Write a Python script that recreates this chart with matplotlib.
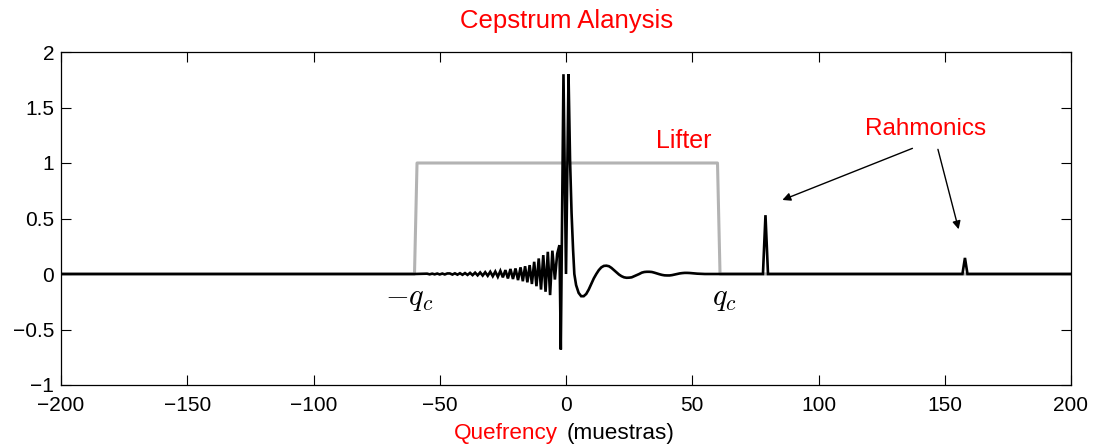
import matplotlib
matplotlib.use("Agg")
import matplotlib.pyplot as plt

plt.rcParams['font.family'] = ['Liberation Sans', 'DejaVu Sans']
plt.rcParams['mathtext.fontset'] = 'cm'

# ---- data ----
# lifter window
lifter_x = [-200, -60, -59, 60, 61, 200]
lifter_y = [0, 0, 1, 1, 0, 0]

# cepstrum: left oscillating tail (x, y)
left_x = [-200, -60, -55.0, -54.0, -53.0, -52.0, -51.0, -50.0, -49.0, -48.0, -47.0,
          -46.0, -45.0, -44.0, -43.0, -42.0, -41.0, -40.0, -39.0, -38.0, -37.0,
          -36.0, -35.0, -34.0, -33.0, -32.0, -31.0, -30.0, -29.0, -28.0, -27.0, -26.0,
          -25.0, -24.0, -23.0, -22.0, -21.0, -20.0, -19.0, -18.0, -17.1, -16.2, -15.3,
          -14.4, -13.5, -12.6, -11.7, -10.8, -9.9, -9.0, -8.1, -7.2, -6.3, -5.4,
          -4.4, -3.5, -2.6, -2.06, -1.0, 0.0]
left_y = [0, 0, 0.003, -0.003, 0.003, -0.003, 0.004, -0.004, 0.004, -0.004, 0.005,
          0.005, -0.005, 0.006, -0.006, 0.007, -0.007, 0.008, -0.008, 0.010, -0.010,
          0.012, -0.012, 0.014, -0.014, 0.016, -0.016, 0.020, -0.020, 0.022, -0.025, 0.028,
          -0.030, 0.035, -0.04, 0.045, -0.045, 0.05, -0.055, 0.06, -0.065, 0.07, -0.075,
          0.08, -0.09, 0.11, -0.11, 0.14, -0.14, 0.17, -0.16, 0.20, -0.19, 0.21,
          -0.05, 0.18, 0.26, -0.68, 1.80, 0.0]

# cepstrum: right decaying part (x, y)
right_x = [1.0, 1.6, 2.2, 2.8, 3.3, 4.0, 5.0, 6.0, 7.0, 8.0, 9.0, 10.0, 11.0, 12.0, 13.0,
           14.0, 15.0, 16.0, 17.0, 18.0, 19.0, 20.0, 21.0, 22.0, 23.0, 24.0, 25.0, 26.0,
           27.0, 28.0, 29.0, 30.0, 31.0, 32.0, 33.0, 34.0, 35.0, 36.0, 37.0, 38.0, 39.0,
           40.0, 41.0, 42.0, 43.0, 44.0, 45.0, 46.0, 47.0, 48.0, 49.0, 50.0, 52.0, 55.0,
           60.0, 78.0, 79.0, 80.0, 157.0, 158.0, 159.0, 200.0]
right_y = [1.80, 1.03, 0.55, 0.22, 0.0, -0.10, -0.17, -0.20, -0.20, -0.18, -0.14, -0.09,
           -0.04, 0.0, 0.035, 0.06, 0.073, 0.075, 0.07, 0.055, 0.035, 0.015, -0.005, -0.02,
           -0.03, -0.034, -0.033, -0.03, -0.02, -0.01, 0.0, 0.012, 0.018, 0.02, 0.02,
           0.018, 0.012, 0.005, -0.002, -0.008, -0.012, -0.013, -0.013, -0.01, -0.005,
           0.0, 0.005, 0.008, 0.01, 0.01, 0.009, 0.007, 0.003, 0.0,
           0.0, 0.0, 0.53, 0.0, 0.0, 0.145, 0.0, 0.0]

x_ticks = [-200, -150, -100, -50, 0, 50, 100, 150, 200]
y_ticks = [-1, -0.5, 0, 0.5, 1, 1.5, 2]
y_tick_labels = ['\u22121', '\u22120.5', '0', '0.5', '1', '1.5', '2']
x_tick_labels = ['\u2212200', '\u2212150', '\u2212100', '\u221250', '0', '50', '100', '150', '200']

W, H = 1094, 445
fig = plt.figure(figsize=(W / 100, H / 100), dpi=100)
ax = fig.add_axes([61 / W, 1 - 385 / H, (1071 - 61) / W, (385 - 52) / H])

ax.plot(lifter_x, lifter_y, color='#b3b3b3', lw=2.2, zorder=2)
ax.plot(left_x + right_x, left_y + right_y, color='black', lw=1.9, zorder=3,
        solid_joinstyle='miter')

ax.set_xlim(-200, 200)
ax.set_ylim(-1, 2)
ax.set_xticks(x_ticks)
ax.set_xticklabels(x_tick_labels)
ax.set_yticks(y_ticks)
ax.set_yticklabels(y_tick_labels)
ax.tick_params(direction='in', length=7, width=0.8, top=True, right=True,
               labelsize=15, colors='black')
ax.tick_params(axis='x', pad=8)
ax.tick_params(axis='y', pad=5)
for s in ax.spines.values():
    s.set_linewidth(0.9)

# annotations
ax.text(46.6, 1.135, 'Lifter', color='red', fontsize=18, ha='center', va='baseline')
ax.text(142.4, 1.25, 'Rahmonics', color='red', fontsize=17.5, ha='center', va='baseline')
arrow = dict(arrowstyle='-|>', color='black', lw=1.0, mutation_scale=12, shrinkA=0, shrinkB=0)
ax.annotate('', xy=(85.7, 0.667), xytext=(137.2, 1.132), arrowprops=arrow)
ax.annotate('', xy=(155.5, 0.403), xytext=(147.3, 1.123), arrowprops=arrow)
ax.text(-62, -0.22, r'$-q_c$', fontsize=22, ha='center', va='center')
ax.text(62.7, -0.22, r'$q_c$', fontsize=22, ha='center', va='center')

# title and x label
fig.text(567 / W, 1 - 28 / H, 'Cepstrum Alanysis', color='red', fontsize=18.5,
         ha='center', va='baseline')
fig.text(558 / W, 1 - 439 / H, 'Quefrency', color='red', fontsize=16.2, ha='right', va='baseline')
fig.text(567 / W, 1 - 439 / H, '(muestras)', color='black', fontsize=16.2, ha='left', va='baseline')

fig.savefig('out.png', dpi=100)
